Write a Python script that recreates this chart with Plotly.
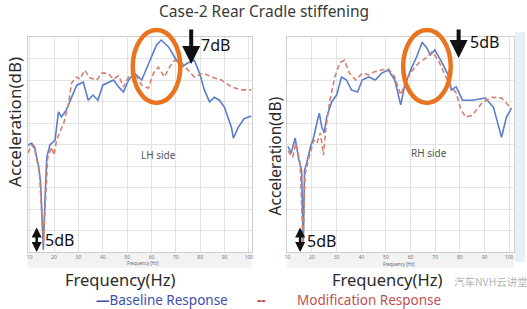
import plotly.graph_objects as go

# ---------------- data ----------------
lh_freq_base = [9.2, 10.8, 12, 13.7, 14.5, 15.6, 16.2, 17, 18.3, 20.4, 21.8, 23, 25, 28, 29.3, 32, 34, 36,
                38, 40, 42, 44.4, 46.5, 48.5, 50.6, 53, 56, 59, 62, 64, 67, 69.5, 72.3, 75, 77.6, 79.7,
                81.7, 83.8, 85.8, 87.9, 89.9, 92.8, 93.6, 95.6, 98, 101]
lh_base = [24.9, 25.3, 24.4, 19.8, 16, 0.5, 11.4, 22, 24.9, 26, 32.6, 31.4, 33, 37, 38.8, 39.5, 35.3, 36.5,
           35.3, 38.8, 39.3, 40, 38.4, 37.2, 40, 41.6, 40, 44, 48.1, 49.3, 47.7, 45.3, 43, 44, 44.6, 41.6,
           37.7, 34.9, 36, 35.3, 33.7, 29, 26.5, 29, 31, 31.6]

lh_freq_mod = [9.2, 10.8, 12, 14, 15.6, 16.2, 17.4, 19, 20, 21, 24, 26, 27.2, 29.3, 30.5, 32.6, 34.6, 37.5,
               39.5, 42, 44.4, 46.5, 48.5, 50.6, 52.6, 56, 58.7, 60.8, 62.8, 65.3, 67.4, 69.5, 72.3, 75,
               77.6, 81.3, 84.6, 88.7, 92.8, 96.9, 101]
lh_mod = [23, 24.9, 24, 18.4, 2, 9, 22, 24.4, 22.5, 26, 30, 34.7, 39.3, 40.7, 40.2, 42.3, 40.5, 40,
          41.6, 41.6, 40.2, 41, 38.4, 40.7, 42, 38.8, 38.1, 41.6, 43, 40.7, 43, 44.6, 44, 42.3,
          40.7, 41.6, 40.7, 40, 38.4, 37.7, 37.7]

rh_freq_base = [10.3, 11.6, 13.2, 14.7, 15.8, 16.5, 17, 17.9, 19.4, 20.7, 22, 23, 24, 25, 26, 28, 30, 32, 34,
                36, 38.5, 40.4, 43, 45.7, 48.3, 51, 53.6, 56, 57.5, 60, 62.4, 64.7, 66.7, 68, 69.8, 72.6,
                75.2, 76.5, 78.5, 81.1, 85, 90.3, 93.6, 96.9, 98.9, 101]
rh_base = [24.5, 23, 26.5, 21.4, 19, 2, 19, 20.7, 24.4, 26.7, 30, 32.3, 29, 27.7, 31.4, 34.9, 36.5, 40.7, 40,
           37.7, 37.2, 40, 40.7, 40, 41.6, 42.3, 40, 34.2, 38.4, 42.3, 45.3, 48.8, 47.4, 45.8, 47, 44.2,
           41.2, 37.7, 38.4, 35.3, 35.3, 35.8, 33.7, 26.7, 31.4, 33.5]

rh_freq_mod = [10.3, 12.2, 13.5, 15.2, 16.4, 17.2, 18.8, 20.8, 22, 23.4, 24.7, 25.7, 27.3, 29.3, 31.3, 33.2,
               35.2, 37.8, 40.4, 43, 45.7, 48.3, 51, 53.6, 56, 58.2, 60.8, 63.4, 66, 68.7, 71.3, 73.9, 76.5,
               78.5, 80.5, 82.4, 85, 89, 93, 96.9, 101]
rh_mod = [23.5, 22, 25.3, 20.7, 2, 18, 22, 26, 25.3, 27.7, 22.5, 29, 35.3, 40.7, 44, 44.6,
          41.6, 40, 41.6, 41.2, 42, 42.3, 42.6, 40.7, 36.5, 40, 42.3, 44, 45, 46.5, 44.6, 41.2, 38.4,
          37, 33, 31.4, 31.8, 34.7, 36, 35.8, 33.3]

x_ticks = [10, 20, 30, 40, 50, 60, 70, 80, 90, 100]
y_grid = [0, 5, 10, 15, 20, 25, 30, 35, 40, 45, 50]

BLUE = "#5b7dcc"
RED = "#d4806e"

W, H = 527, 309
def px(x):
    return x / W
def py(y):
    return 1 - y / H

fig = go.Figure()
fig.add_trace(go.Scatter(x=lh_freq_base, y=lh_base, mode="lines", line=dict(color=BLUE, width=1.6),
                         xaxis="x", yaxis="y", showlegend=False))
fig.add_trace(go.Scatter(x=lh_freq_mod, y=lh_mod, mode="lines", line=dict(color=RED, width=1.6, dash="5px,3px"),
                         xaxis="x", yaxis="y", showlegend=False))
fig.add_trace(go.Scatter(x=rh_freq_base, y=rh_base, mode="lines", line=dict(color=BLUE, width=1.6),
                         xaxis="x2", yaxis="y2", showlegend=False))
fig.add_trace(go.Scatter(x=rh_freq_mod, y=rh_mod, mode="lines", line=dict(color=RED, width=1.6, dash="5px,3px"),
                         xaxis="x2", yaxis="y2", showlegend=False))

axis_common = dict(showgrid=True, gridcolor="#e3e3e3", gridwidth=1, zeroline=False,
                   showline=True, linecolor="#cfcfcf", mirror=True, ticks="",
                   tickfont=dict(size=5, color="#777", family="Noto Sans"))
ydom = [py(252), py(37)]

fig.update_layout(
    width=W, height=H, margin=dict(l=0, r=0, t=0, b=0),
    paper_bgcolor="white", plot_bgcolor="white",
    xaxis=dict(domain=[px(25), px(251)], range=[9.2, 101.1], tickvals=x_ticks, anchor="y", **axis_common),
    yaxis=dict(domain=ydom, range=[0, 50], tickvals=y_grid, showticklabels=False, anchor="x", **axis_common),
    xaxis2=dict(domain=[px(287), px(516)], range=[10, 102], tickvals=x_ticks, anchor="y2", **axis_common),
    yaxis2=dict(domain=ydom, range=[0, 50], tickvals=y_grid, showticklabels=False, anchor="x2", **axis_common),
)

shapes = []
# light tick-label band under each plot
shapes.append(dict(type="rect", xref="paper", yref="paper", x0=px(25), x1=px(251), y0=py(268), y1=py(253),
                   fillcolor="#f2f2f2", line=dict(width=0), layer="below"))
shapes.append(dict(type="rect", xref="paper", yref="paper", x0=px(287), x1=px(516), y0=py(268), y1=py(253),
                   fillcolor="#f2f2f2", line=dict(width=0), layer="below"))
# light blue band at right edge
shapes.append(dict(type="rect", xref="paper", yref="paper", x0=px(517), x1=1, y0=py(262), y1=py(32),
                   fillcolor="#e6f0f6", line=dict(width=0), layer="below"))
# orange ellipses
for cx in (155, 428):
    shapes.append(dict(type="circle", xref="paper", yref="paper", x0=px(cx - 24), x1=px(cx + 24),
                       y0=py(103), y1=py(30), line=dict(color="#e8741f", width=4.5)))
fig.update_layout(shapes=shapes)

ann = []
def text(x, y, s, size, color="#333", family="Noto Sans", angle=0, xanchor="center"):
    ann.append(dict(x=px(x), y=py(y), xref="paper", yref="paper", text=s, showarrow=False,
                    font=dict(size=size, color=color, family=family), textangle=angle,
                    xanchor=xanchor, yanchor="middle"))

text(263, 11, "Case-2 Rear Cradle stiffening", 15.5, "#3a3a3a")
text(12, 122, "Acceleration(dB)", 17, "#2a2a2a", angle=-90)
text(275, 156, "Acceleration(dB)", 15.5, "#2a2a2a", angle=-90)
text(118, 279, "Frequency(Hz)", 16.5, "#2a2a2a")
text(388, 279, "Frequency(Hz)", 16.5, "#2a2a2a")
text(141, 263, "Frequency [Hz]", 4.5, "#666")
text(400, 263.5, "Frequency [Hz]", 4.5, "#666")
text(157, 155, "LH side", 10, "#555")
text(430, 153, "RH side", 10, "#555")
text(198, 45, "7dB", 16, "#111", xanchor="left")
text(469, 42, "5dB", 16, "#111", xanchor="left")
text(40, 240, "5dB", 16, "#111", xanchor="left")
text(305, 241, "5dB", 16, "#111", xanchor="left")
text(92, 300, "<b>—</b>Baseline Response", 13.5, "#3d4fae", xanchor="left")
text(254, 300, "<b>--</b> ", 13.5, "#c0443a", xanchor="left")
text(295, 300, "Modification Response", 13.5, "#c0504d", xanchor="left")
text(453, 281, "汽车NVH云讲堂", 10.5, "rgba(110,110,110,0.55)", family="Noto Sans CJK SC", xanchor="left")

# black down arrows
for x, ytip in ((190, 64), (460, 58)):
    ann.append(dict(x=px(x), y=py(ytip), xref="paper", yref="paper", text="", showarrow=True,
                    ax=0, ay=-(ytip - 28), arrowhead=2, arrowsize=0.9, arrowwidth=4, arrowcolor="#111"))
# double-headed 5dB arrows
for x in (34, 300):
    ann.append(dict(x=px(x), y=py(252), xref="paper", yref="paper", text="", showarrow=True,
                    ax=0, ay=-26, arrowhead=2, startarrowhead=2, arrowside="end+start",
                    arrowsize=0.8, startarrowsize=0.8, arrowwidth=2.5, arrowcolor="#111"))
fig.update_layout(annotations=ann)

fig.write_html("out.html")
